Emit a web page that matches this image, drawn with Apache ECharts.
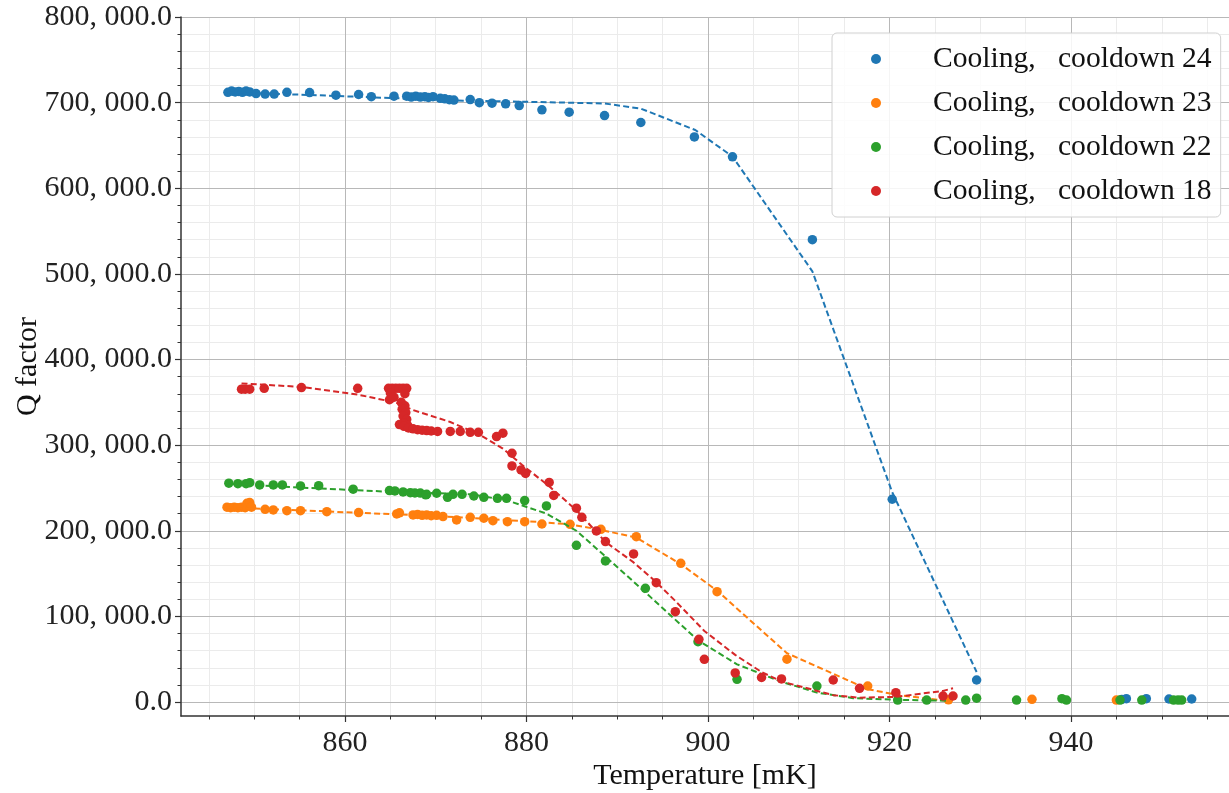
<!DOCTYPE html>
<html>
<head>
<meta charset="utf-8">
<script src="https://cdn.jsdelivr.net/npm/echarts@6/dist/echarts.min.js"></script>
<style>
html,body{margin:0;padding:0;background:#fff;}
#chart{width:1229px;height:793px;}
</style>
</head>
<body>
<div id="chart"></div>
<script>
// ---------- data ----------
const seriesNames = ['Cooling,   cooldown 24', 'Cooling,   cooldown 23', 'Cooling,   cooldown 22', 'Cooling,   cooldown 18'];
const seriesColors = ['#1f77b4', '#ff7f0e', '#2ca02c', '#d62728'];

const xMajorTicks = [860, 880, 900, 920, 940];
const xMinorTicks = [845, 850, 855, 865, 870, 875, 885, 890, 895, 905, 910, 915, 925, 930, 935, 945, 950, 955];
const yMajorTicks = [0, 100000, 200000, 300000, 400000, 500000, 600000, 700000, 800000];
const yMinorTicks = [20000, 40000, 60000, 80000, 120000, 140000, 160000, 180000, 220000, 240000, 260000, 280000,
  320000, 340000, 360000, 380000, 420000, 440000, 460000, 480000, 520000, 540000, 560000, 580000,
  620000, 640000, 660000, 680000, 720000, 740000, 760000, 780000];

// cooldown 24
const blueT = [847.1, 847.5, 847.9, 848.3, 848.7, 849.1, 849.5, 850.2, 851.2, 852.2, 853.6, 856.1, 859.0, 861.5, 862.9, 865.4,
  866.8, 867.3, 867.8, 868.3, 868.8, 869.2, 869.7, 870.5, 871.0, 871.5, 872.0, 873.8, 874.8, 876.2, 877.7, 879.2, 881.7,
  884.7, 888.6, 892.6, 898.5, 902.7, 911.5, 920.3, 929.6, 945.6, 946.1, 948.3, 950.8, 953.3];
const blueQ = [712000, 713500, 712500, 713000, 712000, 713500, 712500, 710600, 710000, 710000, 712000, 711800, 708700, 709500, 707000, 707500,
  707500, 706500, 707500, 706500, 707000, 706000, 707000, 705000, 704500, 703500, 703000, 703600, 700000, 699400, 698600, 696600, 691600,
  688900, 684900, 676800, 660000, 636700, 540000, 236800, 25700, 3000, 3900, 3900, 3500, 3500];
const blueFitT = [847.1, 856.0, 866.0, 872.0, 880.0, 888.6, 892.6, 898.6, 902.7, 911.5, 920.3, 929.6];
const blueFitQ = [712000, 709000, 705000, 702500, 701000, 699000, 693000, 668000, 637000, 503000, 245000, 35000];

// cooldown 23
const orangeT = [847.0, 847.4, 847.8, 848.2, 848.6, 849.0, 849.2, 849.5, 849.7, 851.2, 852.1, 853.6, 855.1, 858.0, 861.5, 865.7,
  866.0, 867.5, 868.0, 868.5, 869.0, 869.5, 870.1, 870.8, 872.3, 873.8, 875.3, 876.3, 877.9, 879.8, 881.7, 884.8, 888.2,
  892.1, 897.0, 901.0, 908.7, 917.6, 926.5, 935.7, 945.0];
const orangeQ = [227500, 227000, 227500, 227000, 227500, 227000, 232000, 233000, 227500, 225000, 224300, 223500, 223500, 222300, 221200, 219600,
  221000, 218500, 219000, 218000, 218500, 217500, 218000, 216500, 212600, 215700, 214600, 211800, 210600, 210600, 207900, 207500, 201700,
  193100, 162000, 128900, 50000, 18700, 2500, 3100, 2300];
const orangeFitT = [847.0, 853.6, 861.5, 868.5, 875.3, 881.7, 884.8, 888.2, 892.1, 897.0, 901.0, 908.7, 917.6, 921.0, 926.6];
const orangeFitQ = [227000, 224500, 221000, 218000, 214000, 210000, 207500, 201000, 192000, 161000, 130000, 57000, 15000, 8000, 1000];

// cooldown 22
const greenT = [847.2, 848.2, 849.1, 849.5, 850.6, 852.1, 853.1, 855.1, 857.1, 860.9, 864.9, 865.5, 866.4, 867.2, 867.7, 868.3,
  868.9, 869.0, 870.1, 871.3, 871.9, 872.9, 874.2, 875.3, 876.8, 877.8, 879.8, 882.2, 885.5, 888.7, 893.1, 898.9, 903.2,
  912.0, 920.9, 924.1, 928.4, 929.6, 934.0, 939.0, 939.5, 945.4, 947.8, 951.3, 951.8, 952.2];
const greenQ = [255500, 255000, 255000, 256200, 253500, 253500, 253500, 252300, 252700, 248500, 246900, 246500, 245300, 244500, 244200, 244000,
  242000, 242600, 243800, 239100, 242600, 242600, 240600, 239100, 237900, 237900, 235200, 229000, 183000, 164700, 132800, 70500, 26500,
  18700, 2300, 2300, 2300, 4500, 2300, 3900, 2300, 2300, 2300, 2300, 2300, 2300];
const greenFitT = [847.2, 855.0, 865.0, 874.0, 878.0, 882.2, 885.5, 888.7, 893.1, 898.9, 903.2, 908.0, 912.0, 916.0, 920.9, 926.5];
const greenFitQ = [255000, 250500, 245500, 242500, 235000, 220000, 200000, 170000, 128000, 72000, 44000, 24000, 11000, 4500, 2500, 1500];

// cooldown 18
const redT = [848.6, 849.0, 849.5, 851.1, 855.2, 861.4, 864.8, 865.2, 865.6, 866.0, 866.4, 866.8, 865.0, 866.6, 864.9, 865.4,
  866.2, 866.6, 866.3, 866.7, 866.4, 866.8, 866.5, 866.9, 866.0, 866.5, 867.0, 867.5, 868.0, 868.5, 869.0, 869.5, 870.2,
  871.6, 872.7, 873.8, 874.7, 876.7, 877.4, 878.4, 878.4, 879.4, 879.9, 882.5, 883.0, 885.5, 886.1, 887.7, 888.7, 891.8,
  894.3, 896.4, 899.0, 899.6, 903.0, 905.9, 908.1, 913.8, 916.7, 920.7, 925.9, 927.0];
const redQ = [365300, 365300, 365300, 366400, 367200, 366400, 366400, 366400, 366400, 366400, 366400, 366400, 361000, 360000, 353000, 356000,
  350000, 346000, 342000, 338000, 334000, 330000, 326000, 323000, 324000, 322000, 320000, 319000, 318000, 317500, 317000, 316500, 316000,
  316000, 316000, 315000, 315000, 310000, 313900, 290500, 275700, 271000, 267000, 256400, 241200, 226300, 215700, 199800, 187300, 172900,
  139400, 105500, 73200, 49800, 34000, 28600, 27000, 25700, 16000, 10900, 7000, 7000];
const redFitT = [848.6, 855.2, 861.4, 865.5, 867.5, 871.6, 874.7, 877.4, 879.5, 882.5, 885.5, 888.7, 891.8, 894.3, 896.4, 899.6,
  903.0, 905.9, 908.1, 913.8, 916.7, 920.7, 925.9, 927.0];
const redFitQ = [372000, 368000, 359000, 350000, 341000, 327000, 313000, 296000, 277000, 252000, 224000, 187000, 163000, 140000, 118000, 83000,
  55000, 35000, 24000, 8000, 5000, 6000, 13000, 16000];

// ---------- build ----------
const zip = (a, b) => a.map((v, i) => [v, b[i]]);
const pts = [zip(blueT, blueQ), zip(orangeT, orangeQ), zip(greenT, greenQ), zip(redT, redQ)];
const fits = [zip(blueFitT, blueFitQ), zip(orangeFitT, orangeFitQ), zip(greenFitT, greenFitQ), zip(redFitT, redFitQ)];

const FONT = "'Liberation Serif', 'DejaVu Serif', serif";
const fmtY = v => v === 0 ? '0.0' : (Math.round(v / 1000) + ', 000.0');

const X_MIN = 841.93, X_MAX = 957.41, Y_MIN = -16350, Y_MAX = 800000;

const series = [];
for (let i = 0; i < 4; i++) {
  series.push({
    name: seriesNames[i], type: 'scatter', data: pts[i], symbol: 'circle', symbolSize: 9.5,
    itemStyle: { color: seriesColors[i], opacity: 1 }, z: 10 + i * 2, silent: true
  });
  series.push({
    name: 'fit ' + i, type: 'line', data: fits[i], showSymbol: false, symbol: 'none', smooth: false,
    lineStyle: { color: seriesColors[i], width: 2, type: [6, 3.2] }, z: 11 + i * 2, silent: true
  });
}

const chart = echarts.init(document.getElementById('chart'), null, { renderer: 'canvas' });
chart.setOption({
  animation: false,
  backgroundColor: '#ffffff',
  grid: { left: 181, top: 17, right: 0, bottom: 77, containLabel: false, outerBoundsMode: 'none' },
  xAxis: [
    {
      type: 'value', min: X_MIN, max: X_MAX,
      name: 'Temperature [mK]', nameLocation: 'middle', nameGap: 45, nameMoveOverlap: false,
      nameTextStyle: { fontFamily: FONT, fontSize: 30, color: '#111' },
      axisLine: { show: true, onZero: false, lineStyle: { color: '#333', width: 1.5 } },
      axisTick: { show: true, inside: false, length: 6, customValues: xMajorTicks, lineStyle: { color: '#333', width: 1.2 } },
      axisLabel: { show: true, customValues: xMajorTicks, margin: 12, fontFamily: FONT, fontSize: 30, color: '#222' },
      splitLine: { show: true, lineStyle: { color: '#b8b8b8', width: 1 } },
      z: 3
    },
    {
      type: 'value', min: X_MIN, max: X_MAX, gridIndex: 0, position: 'bottom',
      axisLine: { show: false, onZero: false },
      axisTick: { show: true, inside: false, length: 3.5, customValues: xMinorTicks, lineStyle: { color: '#333', width: 1 } },
      axisLabel: { show: false },
      splitLine: { show: true, lineStyle: { color: '#ebebeb', width: 1 } },
      z: 2
    }
  ],
  yAxis: [
    {
      type: 'value', min: Y_MIN, max: Y_MAX,
      name: 'Q factor', nameLocation: 'middle', nameGap: 138, nameMoveOverlap: false,
      nameTextStyle: { fontFamily: FONT, fontSize: 30, color: '#111' },
      axisLine: { show: true, onZero: false, lineStyle: { color: '#333', width: 1.5 } },
      axisTick: { show: true, inside: false, length: 6, customValues: yMajorTicks, lineStyle: { color: '#333', width: 1.2 } },
      axisLabel: { show: true, customValues: yMajorTicks, margin: 9, fontFamily: FONT, fontSize: 30, color: '#222', formatter: fmtY },
      splitLine: { show: true, lineStyle: { color: '#b8b8b8', width: 1 } },
      z: 3
    },
    {
      type: 'value', min: Y_MIN, max: Y_MAX, gridIndex: 0, position: 'left',
      axisLine: { show: false, onZero: false },
      axisTick: { show: true, inside: false, length: 3.5, customValues: yMinorTicks, lineStyle: { color: '#333', width: 1 } },
      axisLabel: { show: false },
      splitLine: { show: true, lineStyle: { color: '#ebebeb', width: 1 } },
      z: 2
    }
  ],
  legend: {
    data: seriesNames,
    orient: 'vertical', left: 832, top: 33,
    backgroundColor: 'rgba(255,255,255,0.85)', borderColor: '#d0d0d0', borderWidth: 1, borderRadius: 5,
    padding: [9, 9, 9, 39],
    icon: 'circle', itemWidth: 10, itemHeight: 10, itemGap: 10,
    textStyle: { fontFamily: FONT, fontSize: 29.6, color: '#111', lineHeight: 34, padding: [0, 0, 0, 47] },
    selectedMode: false
  },
  series: series
});
</script>
</body>
</html>
